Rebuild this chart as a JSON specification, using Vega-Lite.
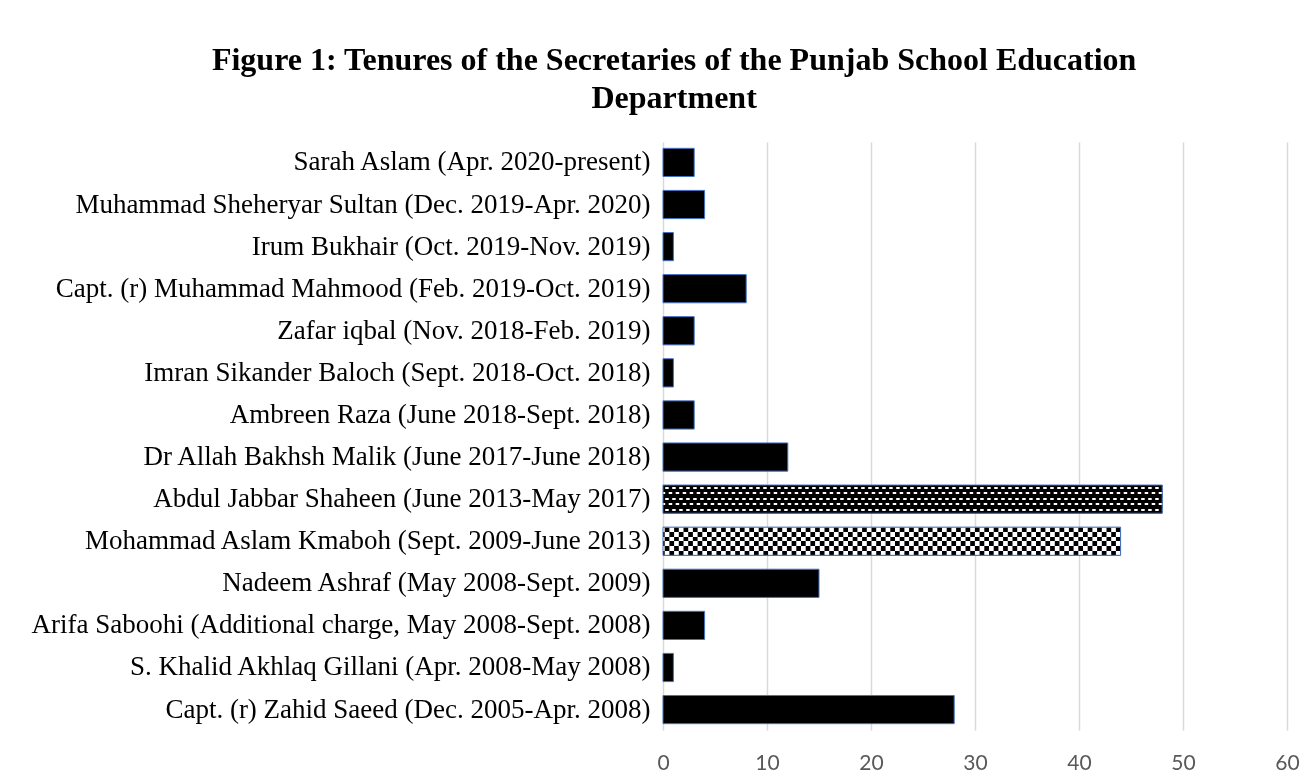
{
  "$schema": "https://vega.github.io/schema/vega-lite/v6.json",
  "width": 624,
  "height": 588,
  "autosize": {"type": "none"},
  "padding": {"left": 663, "top": 142, "right": 27, "bottom": 52},
  "background": "white",
  "config": {"view": {"stroke": null}},
  "title": {
    "text": ["Figure 1: Tenures of the Secretaries of the Punjab School Education", "Department"],
    "font": "Liberation Serif",
    "fontSize": 32,
    "fontWeight": "bold",
    "color": "black",
    "anchor": "middle",
    "frame": "bounds",
    "lineHeight": 38,
    "offset": 27,
    "dx": 9
  },
  "data": {
    "values": [
      {"name": "Sarah Aslam (Apr. 2020-present)", "months": 3},
      {"name": "Muhammad Sheheryar Sultan (Dec. 2019-Apr. 2020)", "months": 4},
      {"name": "Irum Bukhair (Oct. 2019-Nov. 2019)", "months": 1},
      {"name": "Capt. (r) Muhammad Mahmood (Feb. 2019-Oct. 2019)", "months": 8},
      {"name": "Zafar iqbal (Nov. 2018-Feb. 2019)", "months": 3},
      {"name": "Imran Sikander Baloch (Sept. 2018-Oct. 2018)", "months": 1},
      {"name": "Ambreen Raza (June 2018-Sept. 2018)", "months": 3},
      {"name": "Dr Allah Bakhsh Malik (June 2017-June 2018)", "months": 12},
      {"name": "Abdul Jabbar Shaheen (June 2013-May 2017)", "months": 48},
      {"name": "Mohammad Aslam Kmaboh (Sept. 2009-June 2013)", "months": 44},
      {"name": "Nadeem Ashraf (May 2008-Sept. 2009)", "months": 15},
      {"name": "Arifa Saboohi (Additional charge, May 2008-Sept. 2008)", "months": 4},
      {"name": "S. Khalid Akhlaq Gillani (Apr. 2008-May 2008)", "months": 1},
      {"name": "Capt. (r) Zahid Saeed (Dec. 2005-Apr. 2008)", "months": 28}
    ]
  },
  "layer": [
    {
      "mark": {"type": "bar", "fill": "black"},
      "encoding": {
        "y": {
          "field": "name", "type": "nominal", "sort": null, "title": null,
          "scale": {"paddingInner": 0.33, "paddingOuter": 0.15},
          "axis": {
            "ticks": false, "domain": false, "grid": false,
            "labelFont": "Liberation Serif", "labelFontSize": 27, "labelColor": "black",
            "labelPadding": 13, "labelLimit": 1000
          }
        },
        "x": {
          "field": "months", "type": "quantitative", "title": null,
          "scale": {"domain": [0, 60]},
          "axis": {
            "values": [0, 10, 20, 30, 40, 50, 60],
            "ticks": false, "domain": false, "grid": true,
            "gridColor": "#d9d9d9", "gridWidth": 1.5,
            "labelFont": "Lato", "labelFontSize": 21, "labelColor": "#595959",
            "labelPadding": 22, "labelFlush": false
          }
        }
      }
    },
    {
      "transform": [{"filter": "datum.name === 'Abdul Jabbar Shaheen (June 2013-May 2017)'"}],
      "mark": {
        "type": "bar",
        "fill": {
          "gradient": "linear", "x1": 0, "y1": 0, "x2": 0, "y2": 1,
          "stops": [
            {"offset": 0, "color": "black"}, {"offset": 0.064, "color": "black"},
            {"offset": 0.064, "color": "white"}, {"offset": 0.128, "color": "white"},
            {"offset": 0.128, "color": "black"}, {"offset": 0.262, "color": "black"},
            {"offset": 0.262, "color": "white"}, {"offset": 0.326, "color": "white"},
            {"offset": 0.326, "color": "black"}, {"offset": 0.454, "color": "black"},
            {"offset": 0.454, "color": "white"}, {"offset": 0.518, "color": "white"},
            {"offset": 0.518, "color": "black"}, {"offset": 0.652, "color": "black"},
            {"offset": 0.652, "color": "white"}, {"offset": 0.716, "color": "white"},
            {"offset": 0.716, "color": "black"}, {"offset": 0.844, "color": "black"},
            {"offset": 0.844, "color": "white"}, {"offset": 0.908, "color": "white"},
            {"offset": 0.908, "color": "black"}, {"offset": 1, "color": "black"}
          ]
        }
      },
      "encoding": {
        "y": {"field": "name", "type": "nominal", "sort": null},
        "x": {"field": "months", "type": "quantitative"}
      }
    },
    {
      "transform": [{"filter": "datum.name === 'Abdul Jabbar Shaheen (June 2013-May 2017)'"}],
      "mark": {"type": "rule", "stroke": "white", "strokeWidth": 27.6, "strokeDash": [3.5, 3.5], "strokeCap": "butt", "blend": "difference"},
      "encoding": {
        "y": {"field": "name", "type": "nominal", "sort": null},
        "x": {"field": "months", "type": "quantitative"},
        "x2": {"datum": 0}
      }
    },
    {
      "transform": [{"filter": "datum.name === 'Abdul Jabbar Shaheen (June 2013-May 2017)'"}],
      "mark": {
        "type": "bar",
        "blend": "difference",
        "fill": {
          "gradient": "linear", "x1": 0, "y1": 0, "x2": 0, "y2": 1,
          "stops": [
            {"offset": 0, "color": "rgba(0,0,0,0)"}, {"offset": 0.262, "color": "rgba(0,0,0,0)"},
            {"offset": 0.262, "color": "white"}, {"offset": 0.326, "color": "white"},
            {"offset": 0.326, "color": "rgba(0,0,0,0)"}, {"offset": 0.652, "color": "rgba(0,0,0,0)"},
            {"offset": 0.652, "color": "white"}, {"offset": 0.716, "color": "white"},
            {"offset": 0.716, "color": "rgba(0,0,0,0)"}, {"offset": 1, "color": "rgba(0,0,0,0)"}
          ]
        }
      },
      "encoding": {
        "y": {"field": "name", "type": "nominal", "sort": null},
        "x": {"field": "months", "type": "quantitative"}
      }
    },
    {
      "transform": [{"filter": "datum.name === 'Abdul Jabbar Shaheen (June 2013-May 2017)'"}],
      "mark": {
        "type": "bar",
        "fill": {
          "gradient": "linear", "x1": 0, "y1": 0, "x2": 0, "y2": 1,
          "stops": [
            {"offset": 0, "color": "black"}, {"offset": 0.064, "color": "black"},
            {"offset": 0.064, "color": "rgba(0,0,0,0)"}, {"offset": 0.128, "color": "rgba(0,0,0,0)"},
            {"offset": 0.128, "color": "black"}, {"offset": 0.262, "color": "black"},
            {"offset": 0.262, "color": "rgba(0,0,0,0)"}, {"offset": 0.326, "color": "rgba(0,0,0,0)"},
            {"offset": 0.326, "color": "black"}, {"offset": 0.454, "color": "black"},
            {"offset": 0.454, "color": "rgba(0,0,0,0)"}, {"offset": 0.518, "color": "rgba(0,0,0,0)"},
            {"offset": 0.518, "color": "black"}, {"offset": 0.652, "color": "black"},
            {"offset": 0.652, "color": "rgba(0,0,0,0)"}, {"offset": 0.716, "color": "rgba(0,0,0,0)"},
            {"offset": 0.716, "color": "black"}, {"offset": 0.844, "color": "black"},
            {"offset": 0.844, "color": "rgba(0,0,0,0)"}, {"offset": 0.908, "color": "rgba(0,0,0,0)"},
            {"offset": 0.908, "color": "black"}, {"offset": 1, "color": "black"}
          ]
        }
      },
      "encoding": {
        "y": {"field": "name", "type": "nominal", "sort": null},
        "x": {"field": "months", "type": "quantitative"}
      }
    },
    {
      "transform": [{"filter": "datum.name === 'Mohammad Aslam Kmaboh (Sept. 2009-June 2013)'"}],
      "mark": {
        "type": "bar",
        "fill": {
          "gradient": "linear", "x1": 0, "y1": 0, "x2": 0, "y2": 1,
          "stops": [
            {"offset": 0, "color": "white"}, {"offset": 0.1667, "color": "white"},
            {"offset": 0.1667, "color": "black"}, {"offset": 0.3333, "color": "black"},
            {"offset": 0.3333, "color": "white"}, {"offset": 0.5, "color": "white"},
            {"offset": 0.5, "color": "black"}, {"offset": 0.6667, "color": "black"},
            {"offset": 0.6667, "color": "white"}, {"offset": 0.8333, "color": "white"},
            {"offset": 0.8333, "color": "black"}, {"offset": 1, "color": "black"}
          ]
        }
      },
      "encoding": {
        "y": {"field": "name", "type": "nominal", "sort": null},
        "x": {"field": "months", "type": "quantitative"}
      }
    },
    {
      "transform": [{"filter": "datum.name === 'Mohammad Aslam Kmaboh (Sept. 2009-June 2013)'"}],
      "mark": {"type": "rule", "stroke": "white", "strokeWidth": 27.6, "strokeDash": [4.7, 4.7], "strokeCap": "butt", "blend": "difference"},
      "encoding": {
        "y": {"field": "name", "type": "nominal", "sort": null},
        "x": {"field": "months", "type": "quantitative"},
        "x2": {"datum": 0}
      }
    },
    {
      "mark": {"type": "bar", "fill": "transparent", "stroke": "#4472C4", "strokeWidth": 1},
      "encoding": {
        "y": {"field": "name", "type": "nominal", "sort": null},
        "x": {"field": "months", "type": "quantitative"}
      }
    }
  ]
}
